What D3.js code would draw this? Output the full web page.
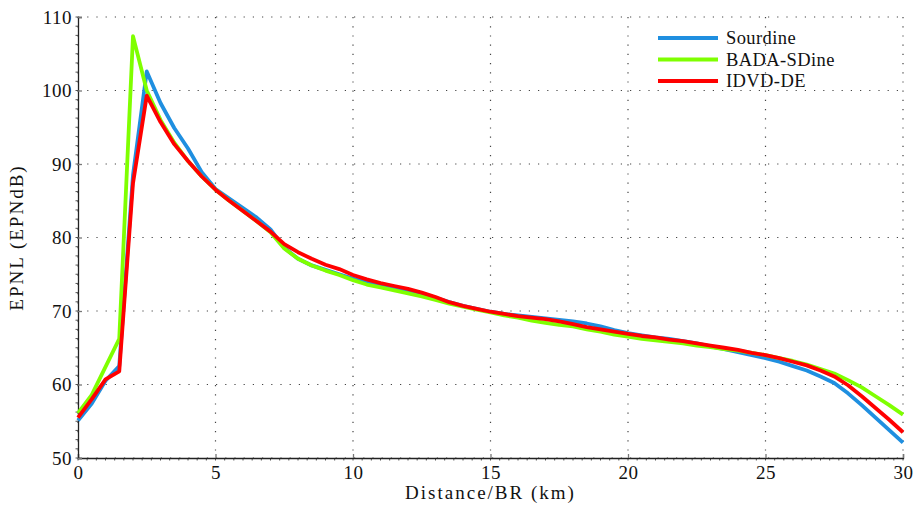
<!DOCTYPE html>
<html>
<head>
<meta charset="utf-8">
<script src="https://cdn.jsdelivr.net/npm/d3@7"></script>
<style>
  body { margin: 0; background: #fff; }
  text { font-family: "Liberation Serif", "DejaVu Serif", serif; fill: #111; }
</style>
</head>
<body>
<svg id="chart" width="915" height="506"></svg>
<script>
const distance = d3.range(0, 30.001, 0.5);

const sourdine = [55.1, 57.4, 60.5, 62.5, 88.5, 102.6, 98.3, 94.9, 92.1, 88.9,
  86.6, 85.3, 84.0, 82.7, 81.1, 78.6, 77.1, 76.2, 75.6, 75.0,
  74.4, 73.9, 73.4, 73.0, 72.8, 72.4, 71.8, 71.2, 70.7, 70.3,
  69.9, 69.6, 69.4, 69.2, 69.0, 68.8, 68.6, 68.3, 67.9, 67.4,
  67.0, 66.7, 66.4, 66.2, 65.9, 65.6, 65.2, 64.8, 64.4, 64.0,
  63.6, 63.1, 62.5, 61.9, 61.1, 60.2, 58.8, 57.2, 55.5, 53.8, 52.1];

const badaSDine = [56.1, 58.6, 62.4, 66.2, 107.4, 100.0, 96.0, 92.9, 90.4, 88.3,
  86.5, 85.0, 83.6, 82.2, 80.7, 78.5, 77.1, 76.2, 75.5, 74.9,
  74.2, 73.6, 73.2, 72.8, 72.4, 72.0, 71.5, 71.0, 70.6, 70.2,
  69.8, 69.4, 69.1, 68.7, 68.4, 68.1, 67.9, 67.5, 67.2, 66.8,
  66.5, 66.2, 66.0, 65.8, 65.6, 65.3, 65.1, 64.8, 64.6, 64.3,
  64.0, 63.6, 63.2, 62.7, 62.1, 61.5, 60.6, 59.6, 58.4, 57.2, 55.9];

const idvdDE = [55.5, 58.0, 60.7, 61.8, 87.4, 99.3, 95.7, 92.7, 90.4, 88.3,
  86.5, 85.0, 83.6, 82.2, 80.8, 79.1, 78.0, 77.1, 76.3, 75.7,
  74.9, 74.3, 73.8, 73.4, 73.0, 72.5, 71.9, 71.2, 70.7, 70.3,
  69.9, 69.6, 69.3, 69.1, 68.9, 68.6, 68.2, 67.8, 67.5, 67.2,
  66.9, 66.6, 66.4, 66.1, 65.9, 65.6, 65.3, 65.0, 64.7, 64.3,
  64.0, 63.6, 63.1, 62.6, 61.9, 61.1, 59.9, 58.4, 56.8, 55.2, 53.5];

const seriesNames = ["Sourdine", "BADA-SDine", "IDVD-DE"];
const seriesColors = ["#1f8fe0", "#7fff00", "#ff0000"];
const xTicks = [0, 5, 10, 15, 20, 25, 30];
const yTicks = [50, 60, 70, 80, 90, 100, 110];

const svg = d3.select("#chart");
const margin = { top: 17, right: 12, bottom: 48, left: 78 };
const width = 915 - margin.left - margin.right;
const height = 506 - margin.top - margin.bottom;

const x = d3.scaleLinear().domain([0, 30]).range([0, width]);
const y = d3.scaleLinear().domain([50, 110]).range([height, 0]);

const g = svg.append("g")
    .attr("transform", `translate(${margin.left},${margin.top})`);

// dotted grid
g.append("g")
    .selectAll("line")
    .data(xTicks)
    .enter().append("line")
      .attr("x1", d => x(d)).attr("x2", d => x(d))
      .attr("y1", 0).attr("y2", height)
      .attr("stroke", "#444")
      .attr("stroke-width", 1.2)
      .attr("stroke-dasharray", "1.2,8");

g.append("g")
    .selectAll("line")
    .data(yTicks)
    .enter().append("line")
      .attr("x1", 0).attr("x2", width)
      .attr("y1", d => y(d)).attr("y2", d => y(d))
      .attr("stroke", "#444")
      .attr("stroke-width", 1.2)
      .attr("stroke-dasharray", "1.2,8");

// minor ticks
g.append("g")
    .selectAll("line")
    .data(d3.range(0, 30.001, 1 / 3))
    .enter().append("line")
      .attr("x1", d => x(d)).attr("x2", d => x(d))
      .attr("y1", height).attr("y2", height + 2.5)
      .attr("stroke", "#555");

g.append("g")
    .selectAll("line")
    .data(d3.range(50, 110.001, 1.25))
    .enter().append("line")
      .attr("x1", -2.5).attr("x2", 0)
      .attr("y1", d => y(d)).attr("y2", d => y(d))
      .attr("stroke", "#555");

// axes
const xAxis = g.append("g")
    .attr("transform", `translate(0,${height})`)
    .call(d3.axisBottom(x).tickValues(xTicks).tickSize(-4).tickPadding(8));

const yAxis = g.append("g")
    .call(d3.axisLeft(y).tickValues(yTicks).tickSize(-4).tickPadding(6));

[xAxis, yAxis].forEach(a => {
  a.select(".domain").attr("stroke", "#222").attr("stroke-width", 1.3);
  a.selectAll(".tick line").attr("stroke", "#777").attr("stroke-width", 1.3);
  a.selectAll(".tick text")
      .style("font-family", "'Liberation Serif', serif")
      .style("font-size", "19px")
      .style("letter-spacing", "0.5px")
      .attr("fill", "#111");
});

// lines
const seriesData = [sourdine, badaSDine, idvdDE];
const line = d3.line()
    .x((d, i) => x(distance[i]))
    .y(d => y(d));

g.append("g")
    .selectAll("path")
    .data(seriesData)
    .enter().append("path")
      .attr("d", d => line(d))
      .attr("fill", "none")
      .attr("stroke", (d, i) => seriesColors[i])
      .attr("stroke-width", 3.8)
      .attr("stroke-linejoin", "round");

// legend
const legend = svg.append("g")
    .attr("transform", "translate(658,38)");

const item = legend.selectAll("g")
    .data(seriesNames)
    .enter().append("g")
      .attr("transform", (d, i) => `translate(0,${i * 21.5})`);

item.append("line")
    .attr("x1", 0).attr("x2", 60)
    .attr("stroke", (d, i) => seriesColors[i])
    .attr("stroke-width", 3.8);

item.append("text")
    .attr("x", 68)
    .attr("y", 6)
    .style("font-size", "18.5px")
    .style("letter-spacing", "0.4px")
    .text(d => d);

// axis labels
svg.append("text")
    .attr("x", margin.left + width / 2)
    .attr("y", 499)
    .attr("text-anchor", "middle")
    .style("font-size", "19px")
    .style("letter-spacing", "2px")
    .text("Distance/BR (km)");

svg.append("text")
    .attr("transform", `translate(23,${margin.top + height / 2}) rotate(-90)`)
    .attr("text-anchor", "middle")
    .style("font-size", "19px")
    .style("letter-spacing", "2px")
    .text("EPNL (EPNdB)");
</script>
</body>
</html>
